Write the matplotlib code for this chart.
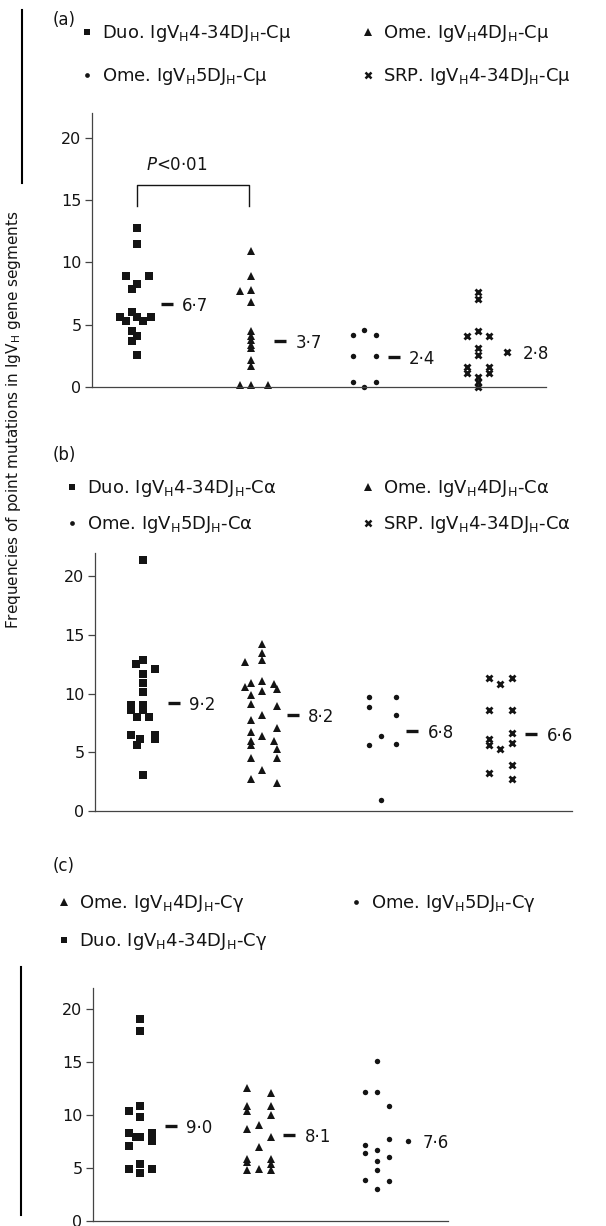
import numpy as np
import matplotlib
matplotlib.use('Agg')
import matplotlib.pyplot as plt

plt.rcParams['font.family'] = ['DejaVu Sans']
plt.rcParams['mathtext.fontset'] = 'dejavusans'

## (a) Cmu
a_duo = [12.8, 11.5, 8.9, 8.9, 8.3, 7.9, 6.0, 5.6, 5.3, 5.6, 5.3, 5.6, 4.5, 4.1, 3.7, 2.6]
a_duo_col = [0, 0, -1, 1, 0, -0.45, -0.45, -1.5, -1, 0, 0.5, 1.2, -0.45, 0, -0.45, 0]
a_ome4 = [10.9, 8.9, 7.7, 7.8, 6.85, 4.5, 4.1, 3.8, 3.4, 3.1, 2.2, 1.7, 0.2, 0.2, 0.2]
a_ome4_col = [0, 0, -0.95, 0, 0, 0, 0, 0, 0, 0, 0, 0, -0.95, 0, 1.5]
a_ome5 = [4.2, 4.6, 4.2, 2.5, 2.5, 0.4, 0.0, 0.4]
a_ome5_col = [-1, 0, 1, -1, 1, -1, 0, 1]
a_srp = [7.6, 7.1, 4.1, 4.5, 4.1, 3.1, 2.6, 1.6, 1.15, 1.6, 1.15, 0.8, 0.4, 0.0]
a_srp_col = [0, 0, -1, 0, 1, 0, 0, -1, -1, 1, 1, 0, 0, 0]
a_means = [6.7, 3.7, 2.4, 2.8]

## (b) Calpha
b_duo = [21.4, 12.9, 12.5, 12.1, 11.7, 10.9, 10.15, 9.07, 8.64, 9.07, 8.64, 8.0, 8.0,
         6.5, 6.5, 6.1, 6.1, 5.66, 3.1]
b_duo_col = [0, 0, -0.55, 1, 0, 0, 0, -1, -1, 0, 0, -0.5, 0.5, -1, 1, 1, -0.2, -0.5, 0]
b_ome4 = [12.7, 14.2, 13.5, 12.9, 10.9, 10.6, 11.1, 10.2, 10.8, 10.4, 9.9, 9.15, 8.95, 8.2,
          7.8, 7.1, 6.7, 6.4, 6.0, 5.6, 6.0, 5.3, 4.5, 4.5, 3.5, 2.76, 2.4]
b_ome4_col = [-1.45, 0, 0, 0, -0.9, -1.45, 0, 0, 1, 1.25, -0.9, -0.9, 1.25, 0,
              -0.9, 1.25, -0.9, 0, -0.9, -0.9, 1, 1.25, -0.9, 1.25, 0, -0.9, 1.25]
b_ome5 = [9.72, 8.87, 9.72, 8.2, 6.4, 5.6, 5.75, 0.97]
b_ome5_col = [-1, -1, 1.25, 1.25, 0, -1, 1.25, 0]
b_srp = [11.3, 10.86, 11.3, 8.58, 8.58, 6.68, 6.1, 5.66, 5.26, 5.8, 3.27, 3.9, 2.7]
b_srp_col = [-1, 0, 1, -1, 1, 1, -1, -1, 0, 1, -1, 1, 1]
b_means = [9.2, 8.2, 6.8, 6.6]

## (c) Cgamma
c_duo = [19.1, 17.96, 10.36, 10.9, 9.8, 8.3, 7.06, 7.9, 7.9, 8.3, 7.53, 4.93, 5.4, 4.52, 4.93]
c_duo_col = [0, 0, -1, 0, 0, -1, -1, -0.4, 0, 1, 1, -1, 0, 0, 1]
c_ome4 = [12.6, 12.05, 10.9, 10.36, 10.9, 10.0, 8.7, 9.1, 7.97, 7.03, 5.9, 5.6, 5.87, 5.4,
          4.77, 4.93, 4.8]
c_ome4_col = [-1, 1, -1, -1, 1, 1, -1, 0, 1, 0, -1, -1, 1, 1, -1, 0, 1]
c_ome5 = [15.13, 12.15, 12.15, 10.9, 7.76, 7.13, 6.72, 6.4, 6.03, 5.65, 4.77, 3.83, 3.77, 2.98]
c_ome5_col = [0, -1, 0, 1, 1, -1, 0, -1, 1, 0, 0, -1, 1, 0]
c_means = [9.0, 8.1, 7.6]

leg_a = [r'Duo. IgV$_{\mathrm{H}}$4-34DJ$_{\mathrm{H}}$-Cμ', r'Ome. IgV$_{\mathrm{H}}$4DJ$_{\mathrm{H}}$-Cμ',
         r'Ome. IgV$_{\mathrm{H}}$5DJ$_{\mathrm{H}}$-Cμ', r'SRP. IgV$_{\mathrm{H}}$4-34DJ$_{\mathrm{H}}$-Cμ']
leg_b = [r'Duo. IgV$_{\mathrm{H}}$4-34DJ$_{\mathrm{H}}$-Cα', r'Ome. IgV$_{\mathrm{H}}$4DJ$_{\mathrm{H}}$-Cα',
         r'Ome. IgV$_{\mathrm{H}}$5DJ$_{\mathrm{H}}$-Cα', r'SRP. IgV$_{\mathrm{H}}$4-34DJ$_{\mathrm{H}}$-Cα']
leg_c = [r'Ome. IgV$_{\mathrm{H}}$4DJ$_{\mathrm{H}}$-Cγ', r'Ome. IgV$_{\mathrm{H}}$5DJ$_{\mathrm{H}}$-Cγ',
         r'Duo. IgV$_{\mathrm{H}}$4-34DJ$_{\mathrm{H}}$-Cγ']

ylabel = r'Frequencies of point mutations in IgV$_{\mathrm{H}}$ gene segments'

W, H = 606, 1226
fig = plt.figure(figsize=(W / 100, H / 100), dpi=100)

style = {
    's': dict(marker='s', ms=5.6, mew=0),
    '^': dict(marker='^', ms=6.4, mew=0),
    'o': dict(marker='o', ms=3.9, mew=0),
    'x': dict(marker='x', ms=5.0, mew=2.0),
    '_': dict(marker='_', ms=8.6, mew=2.4),
}
ink = '#141414'


def px_axes(left, right, top, bottom):
    return fig.add_axes([left / W, 1 - bottom / H, (right - left) / W, (bottom - top) / H])


def panel(ax, groups, means, mean_marks, ngroups):
    for i, (vals, cols, mk) in enumerate(groups):
        x = i + 1 + np.array(cols) * 0.1
        ax.plot(x, vals, ls='none', color=ink, clip_on=False, **style[mk])
    for i, (m, mk) in enumerate(zip(means, mean_marks)):
        ax.plot(i + 1.26, m, ls='none', color=ink, clip_on=False, **style[mk])
        ax.annotate(f'{m:.1f}'.replace('.', '·'), (i + 1.26, m), xytext=(11, -1.5),
                    textcoords='offset points', va='center', ha='left', fontsize=12, color=ink)
    ax.set_xlim(0.6, ngroups + 0.6)
    ax.set_ylim(0, 22)
    ax.set_yticks([0, 5, 10, 15, 20])
    ax.set_xticks([])
    for s in ['top', 'right']:
        ax.spines[s].set_visible(False)
    for s in ['left', 'bottom']:
        ax.spines[s].set_color('#444444')
        ax.spines[s].set_linewidth(0.9)
    ax.tick_params(axis='y', direction='out', length=5, width=0.9, color='#444444',
                   labelsize=11.5, pad=2.5, labelcolor=ink)


ax_a = px_axes(92, 546, 113, 387)
panel(ax_a, [(a_duo, a_duo_col, 's'), (a_ome4, a_ome4_col, '^'),
             (a_ome5, a_ome5_col, 'o'), (a_srp, a_srp_col, 'x')],
      a_means, ['_', '_', '_', 'x'], 4)
# significance bracket
ax_a.plot([1, 1, 1.98, 1.98], [14.5, 16.2, 16.2, 14.5], color=ink, lw=1.0)
ax_a.text(1.08, 17.8, r'$P$<0·01', fontsize=12, va='center', ha='left', color=ink)

ax_b = px_axes(95, 572, 553, 811)
panel(ax_b, [(b_duo, b_duo_col, 's'), (b_ome4, b_ome4_col, '^'),
             (b_ome5, b_ome5_col, 'o'), (b_srp, b_srp_col, 'x')],
      b_means, ['_', '_', '_', '_'], 4)

ax_c = px_axes(93, 448, 988, 1221)
panel(ax_c, [(c_duo, c_duo_col, 's'), (c_ome4, c_ome4_col, '^'),
             (c_ome5, c_ome5_col, 'o')],
      c_means, ['_', '_', 'o'], 3)

# overlay in pixel coordinates for legends and labels
ov = fig.add_axes([0, 0, 1, 1])
ov.set_xlim(0, W)
ov.set_ylim(H, 0)
ov.axis('off')

leg_style = {
    's': dict(marker='s', ms=4.5, mew=0),
    '^': dict(marker='^', ms=5.2, mew=0),
    'o': dict(marker='o', ms=3.4, mew=0),
    'x': dict(marker='x', ms=4.3, mew=1.8),
}


def legend(tag, tag_y, items):
    ov.text(53, tag_y, tag, fontsize=12, va='center', ha='left', color=ink)
    for lab, mk, x, base in items:
        ov.plot(x, base - 6, ls='none', color=ink, **leg_style[mk])
        ov.text(x + 15, base, lab, fontsize=13, va='baseline', ha='left', color=ink)


legend('(a)', 20, [(leg_a[0], 's', 87, 38), (leg_a[1], '^', 368, 38),
                   (leg_a[2], 'o', 87, 81), (leg_a[3], 'x', 368, 81)])
legend('(b)', 455, [(leg_b[0], 's', 72, 493), (leg_b[1], '^', 368, 493),
                    (leg_b[2], 'o', 72, 529), (leg_b[3], 'x', 368, 529)])
legend('(c)', 866, [(leg_c[0], '^', 64, 908), (leg_c[1], 'o', 356, 908),
                    (leg_c[2], 's', 64, 946)])

ov.text(14, 420, ylabel, rotation=90, fontsize=11, va='center', ha='center', color=ink)
ov.plot([22, 22], [10, 183], color='k', lw=1.5)
ov.plot([21, 21], [967, 1215], color='k', lw=1.5)

fig.savefig('out.png', dpi=100)
